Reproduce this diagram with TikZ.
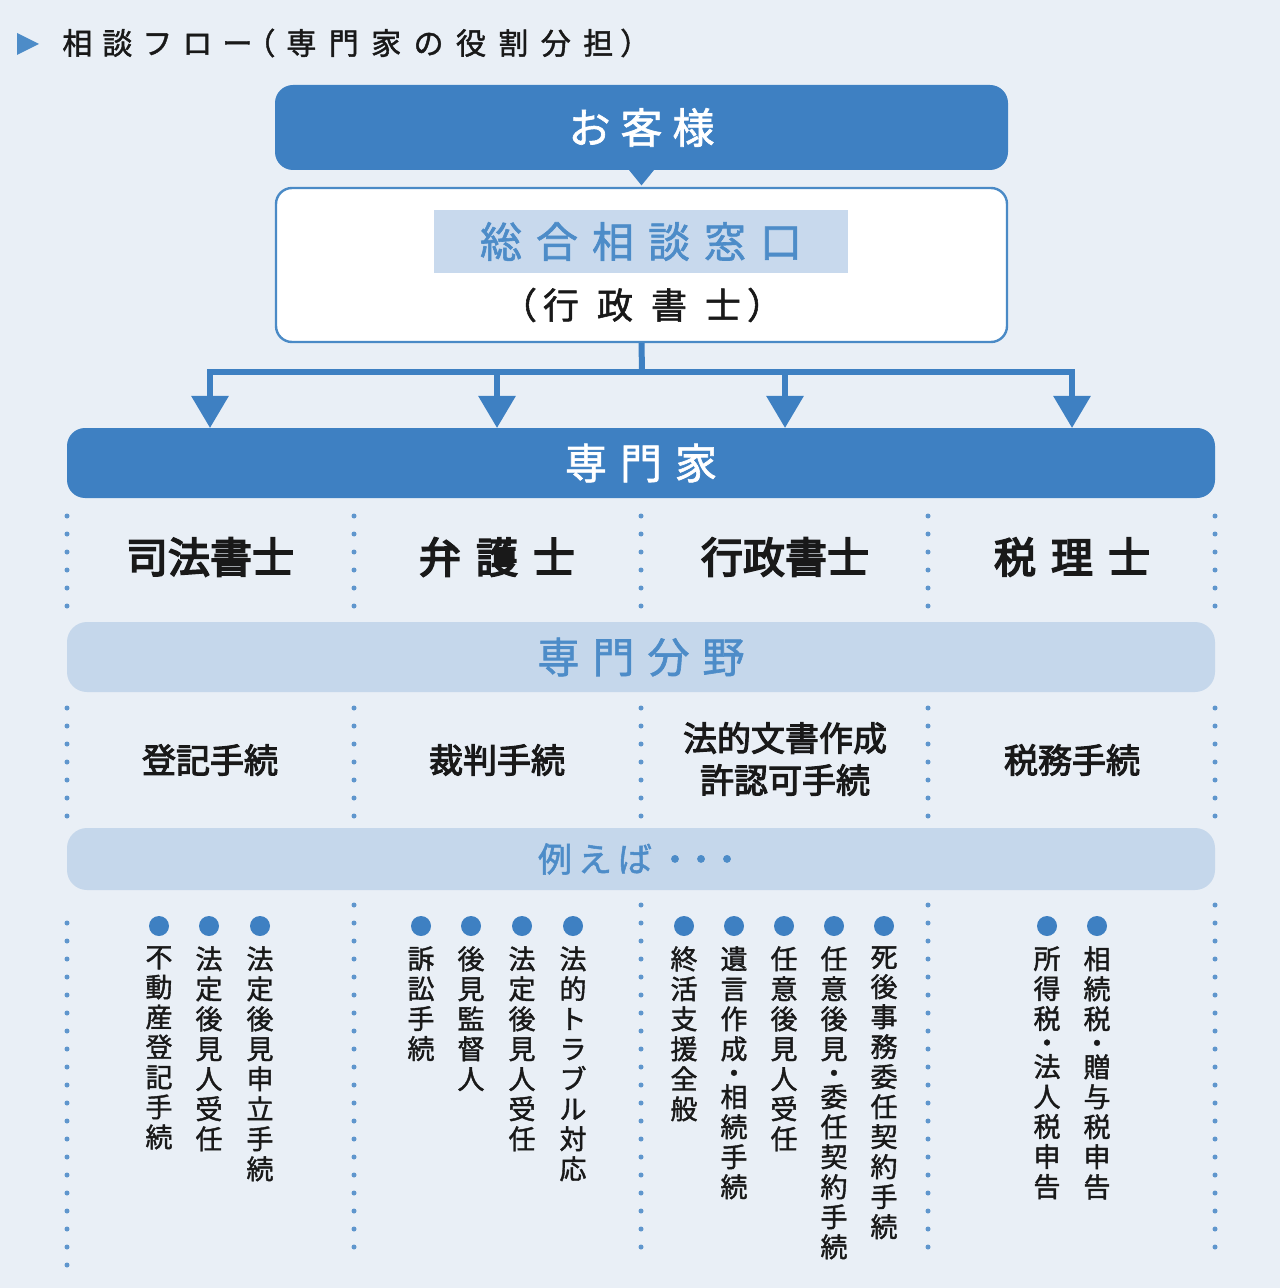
\documentclass[tikz,border=0pt]{standalone}
\usepackage{fontspec}
\setmainfont{Noto Sans CJK JP}
\newfontfamily\jpb{Noto Sans CJK JP}[FakeBold=4]
\newfontfamily\jpm{Noto Sans CJK JP}[FakeBold=3]
\newfontfamily\jpl{Noto Sans CJK JP}[FakeBold=1.5]
\usetikzlibrary{arrows.meta}
\definecolor{bg}{RGB}{233,239,246}
\definecolor{dblue}{RGB}{62,128,194}
\definecolor{lband}{RGB}{197,215,235}
\definecolor{btext}{RGB}{77,140,200}
\definecolor{dotc}{RGB}{95,150,205}
\definecolor{hilite}{RGB}{200,217,237}
\definecolor{kborder}{RGB}{74,138,198}
\definecolor{ink}{RGB}{25,25,25}
\newcommand\hs[1]{\hspace{#1pt}}
\makeatletter
\newcommand\spaced[2]{\def\spc@gap{\hspace{#1pt}}\spc@first#2\@nil}
\def\spc@first#1{#1\spc@rest}
\def\spc@rest#1{\ifx\@nil#1\else\spc@gap#1\expandafter\spc@rest\fi}
\makeatother
\newcommand\vd{\\[-3pt]\smash{・}\\[-3pt]}
\tikzset{
  dbox/.style={fill=dblue, rounded corners=9pt, inner sep=0pt, text=white},
  band/.style={fill=lband, rounded corners=10pt, inner sep=0pt, text=btext},
  conn/.style={draw=dblue, line width=3pt},
  sepline/.style={draw=dotc, line width=2.5pt, line cap=round, dash pattern=on 0pt off 9pt},
  bul/.style={circle, fill=dblue, inner sep=0pt, minimum size=10pt},
  vt/.style={anchor=north, inner sep=0pt, align=center, text=ink, font=\jpl\fontsize{13.5}{15}\selectfont},
  hdr/.style={inner sep=0pt, text=ink, font=\jpb\fontsize{21}{25}\selectfont},
  fld/.style={inner sep=0pt, align=center, text=ink, font=\jpm\fontsize{17}{21}\selectfont},
}
\newcommand\excol[3]{\node[bul] (b#1) at (#2,926) {}; \node[vt] (c#1) at (#2,946) {#3};}
\begin{document}
\begin{tikzpicture}[x=0.5pt,y=-0.5pt]
\fill[bg] (0,0) rectangle (1280,1288);
\useasboundingbox (0,0) rectangle (1280,1288);
% title
\fill[btext] (17,33) -- (39,44) -- (17,55) -- cycle;
\node[anchor=west, inner sep=0pt, text=ink, font=\jpl\fontsize{15}{18}\selectfont] (title) at (62,43) {\spaced{5}{相談フロー}\hs{-3.5}（\hs{5.5}\spaced{6.2}{専門家の役割分担}\hs{3.5}）};
% customer
\node[dbox, minimum width=366.5pt, minimum height=42.5pt, font=\jpl\fontsize{21}{25}\selectfont] (okyaku) at (641.5,127.5) {\spaced{5}{お客様}};
\fill[dblue] ([xshift=-6.5pt,yshift=0.5pt]okyaku.south) -- ([xshift=6.5pt,yshift=0.5pt]okyaku.south) -- ([yshift=-7.5pt]okyaku.south) -- cycle;
% general counter
\node[draw=kborder, line width=1.2pt, fill=white, rounded corners=8pt, minimum width=365.5pt, minimum height=77pt, inner sep=0pt] (koza) at (641.5,265) {};
\node[fill=hilite, minimum width=207pt, minimum height=31.5pt, inner sep=0pt, text=btext, font=\jpl\fontsize{21}{25}\selectfont] (madoguchi) at (641,241.5) {\spaced{7}{総合相談窓口}};
\node[text=ink, font=\jpl\fontsize{18}{22}\selectfont, inner sep=0pt] (gyosei0) at (642,305) {（\hs{3}行\hs{9}政\hs{9}書\hs{9}士\hs{3}）};
% connectors
\coordinate (hub) at (642,372);
\coordinate (e1) at (210,428);
\coordinate (e2) at (497,428);
\coordinate (e3) at (785,428);
\coordinate (e4) at (1072,428);
\draw[conn] (koza.south) -- (hub);
\foreach \i in {1,...,4} \draw[conn, -{Triangle[width=18pt,length=16pt]}] (hub) -| (e\i);
% specialists
\node[dbox, minimum width=574pt, minimum height=35pt, font=\jpl\fontsize{21}{25}\selectfont] (senmonka) at (641,463) {\spaced{6.5}{専門家}};
% separators
\foreach \x in {67,354,641,928,1215}{
  \draw[sepline] (\x,516) -- (\x,608);
  \draw[sepline] (\x,708) -- (\x,817);
}
\foreach \x in {354,641,928,1215} \draw[sepline] (\x,905) -- (\x,1249);
\draw[sepline] (67,923) -- (67,1266);
% headers
\node[hdr] (shiho) at (210,557) {司法書士};
\node[hdr] (bengo) at (497,557) {\spaced{7.5}{弁護士}};
\node[hdr] (gyosei) at (785,557) {行政書士};
\node[hdr] (zeiri) at (1072,557) {\spaced{7.5}{税理士}};
% fields band
\node[band, minimum width=574pt, minimum height=35pt, font=\jpl\fontsize{21}{25}\selectfont] (bunya) at (641,657) {\spaced{6.5}{専門分野}};
\node[fld] (f1) at (210,760) {登記手続};
\node[fld] (f2) at (497,760) {裁判手続};
\node[fld] (f3) at (785,759) {法的文書作成\\許認可手続};
\node[fld] (f4) at (1072,760) {税務手続};
% examples band
\node[band, minimum width=574pt, minimum height=31pt, font=\jpl\fontsize{17}{20}\selectfont] (reiba) at (641,859) {例\hs{3}え\hs{3}ば\hs{3}・\hs{-4}・\hs{-4}・};
% example columns
\excol{1}{159}{不\\動\\産\\登\\記\\手\\続}
\excol{2}{209}{法\\定\\後\\見\\人\\受\\任}
\excol{3}{260}{法\\定\\後\\見\\申\\立\\手\\続}
\excol{4}{421}{訴\\訟\\手\\続}
\excol{5}{471}{後\\見\\監\\督\\人}
\excol{6}{522}{法\\定\\後\\見\\人\\受\\任}
\excol{7}{573}{法\\的\\ト\\ラ\\ブ\\ル\\対\\応}
\excol{8}{684}{終\\活\\支\\援\\全\\般}
\excol{9}{734}{遺\\言\\作\\成\vd 相\\続\\手\\続}
\excol{10}{784}{任\\意\\後\\見\\人\\受\\任}
\excol{11}{834}{任\\意\\後\\見\vd 委\\任\\契\\約\\手\\続}
\excol{12}{884}{死\\後\\事\\務\\委\\任\\契\\約\\手\\続}
\excol{13}{1047}{所\\得\\税\vd 法\\人\\税\\申\\告}
\excol{14}{1097}{相\\続\\税\vd 贈\\与\\税\\申\\告}
\end{tikzpicture}
\end{document}
